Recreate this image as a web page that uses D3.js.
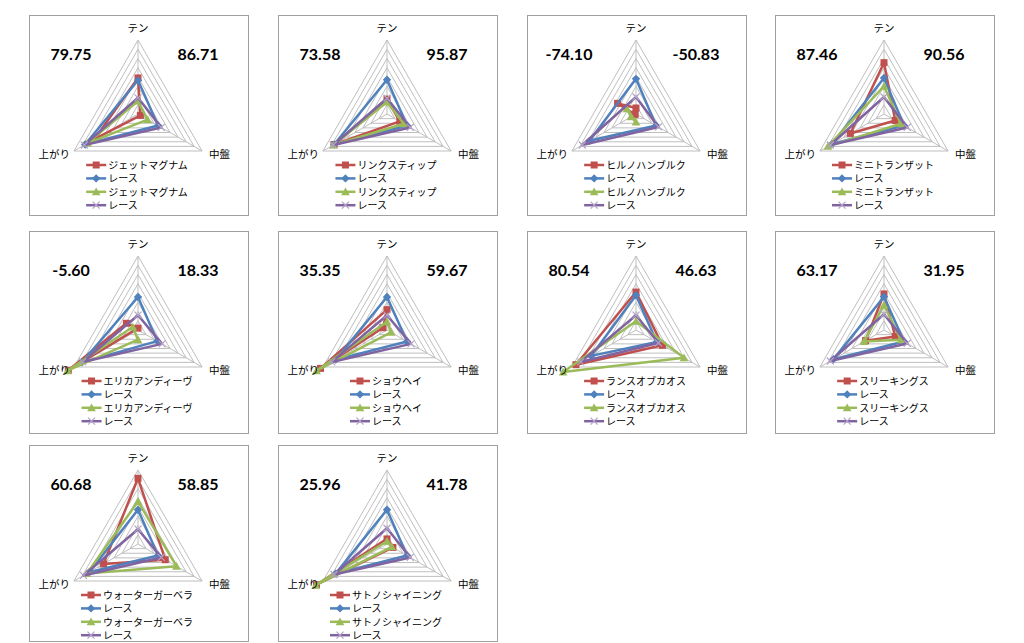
<!DOCTYPE html>
<html>
<head>
<meta charset="utf-8">
<script src="https://cdn.jsdelivr.net/npm/d3@7"></script>
<style>
  html, body { margin: 0; padding: 0; background: #ffffff; }
  svg { display: block; }
</style>
</head>
<body>
<svg id="chart" width="1024" height="643"></svg>
<script>
// ---------------- DATA ----------------
const axes = ["テン", "中盤", "上がり"];
const horses = ["ジェットマグナム", "リンクスティップ", "ヒルノハンブルク", "ミニトランザット",
  "エリカアンディーヴ", "ショウヘイ", "ランスオブカオス", "スリーキングス",
  "ウォーターガーベラ", "サトノシャイニング"];
const raceLabel = "レース";
const leftScores = ["79.75", "73.58", "-74.10", "87.46", "-5.60", "35.35", "80.54", "63.17", "60.68", "25.96"];
const rightScores = ["86.71", "95.87", "-50.83", "90.56", "18.33", "59.67", "46.63", "31.95", "58.85", "41.78"];
const gridLevels = [1, 2, 3, 4, 5, 6, 7, 8];

// values per panel: [テン, 中盤, 上がり]
const redSeries = [
  [3.9, 0.3, 5.45], [1.6, 1.6, 6.6], [0.65, -2.3, 0.1], [5.55, 1.4, 4.2], [0.2, -1.45, 8.7],
  [2.2, -0.5, 8.3], [4.1, 3.3, 7.5], [3.9, 1.4, 2.3], [7.1, 3.4, 4.3], [0.55, 0.74, 8.8]
];
const blueSeries = [
  [3.64, 2.5, 6.6], [3.7, 2.5, 6.6], [3.8, 2.5, 5.8], [3.9, 2.5, 6.5], [3.57, 2.4, 7.0],
  [3.57, 2.5, 6.4], [3.75, 2.6, 5.6], [3.6, 2.5, 6.3], [3.7, 2.5, 6.1], [3.7, 2.5, 6.4]
];
const greenSeries = [
  [1.4, 1.2, 6.3], [1.3, 2.1, 6.7], [-0.87, -1.15, 0.62], [3.0, 2.1, 7.0], [-1.05, -0.65, 8.8],
  [0.9, 0.5, 8.8], [0.95, 6.0, 9.1], [2.7, 2.1, 2.5], [4.6, 4.8, 6.4], [0.3, 0.6, 8.9]
];
const purpleSeries = [
  [1.75, 2.9, 6.7], [1.7, 2.9, 6.7], [1.84, 2.8, 6.7], [1.84, 2.9, 6.7], [1.6, 3.0, 6.9],
  [1.6, 3.0, 6.9], [1.6, 2.8, 6.9], [1.7, 2.9, 6.7], [1.6, 2.9, 6.8], [1.7, 2.9, 6.6]
];

// ---------------- LAYOUT ----------------
const colX = [29, 278, 527, 775];
const rowY = [15, 231, 445];
const rowH = [200, 202, 196];
const panelW = 219;
const cxRel = 109, cyRel = 99, R = 74;

const seriesStyle = [
  { color: "#C0504D", marker: "square" },
  { color: "#4F81BD", marker: "diamond" },
  { color: "#9BBB59", marker: "triangle" },
  { color: "#8064A2", marker: "x" }
];

const svg = d3.select("#chart");
const rScale = d3.scaleLinear().domain([0, 8]).range([0, R]);
const angle = d3.scalePoint().domain(axes).range([0, 240]); // degrees clockwise from top

function pt(axisName, v) {
  const a = angle(axisName) * Math.PI / 180;
  const r = rScale(v);
  return [r * Math.sin(a), -r * Math.cos(a)];
}

function drawMarker(g, type, x, y, color, s) {
  if (type === "square") {
    g.append("rect").attr("x", x - s / 2).attr("y", y - s / 2).attr("width", s).attr("height", s)
      .attr("fill", color);
  } else if (type === "diamond") {
    const d = s * 0.6;
    g.append("path").attr("d", `M${x},${y - d}L${x + d},${y}L${x},${y + d}L${x - d},${y}Z`).attr("fill", color);
  } else if (type === "triangle") {
    const d = s * 0.62;
    g.append("path").attr("d", `M${x},${y - d}L${x + d},${y + d * 0.8}L${x - d},${y + d * 0.8}Z`).attr("fill", color);
  } else {
    const d = s * 0.5;
    g.append("path").attr("d", `M${x - d},${y - d}L${x + d},${y + d}M${x - d},${y + d}L${x + d},${y - d}`)
      .attr("stroke", "#B3A2C7").attr("stroke-width", 1.2).attr("fill", "none");
  }
}

const lineGen = d3.line();

horses.forEach((name, i) => {
  const px = colX[i % 4], py = rowY[Math.floor(i / 4)], ph = rowH[Math.floor(i / 4)];
  const panel = svg.append("g").attr("transform", `translate(${px},${py})`);
  panel.append("rect").attr("x", 0.5).attr("y", 0.5).attr("width", panelW).attr("height", ph)
    .attr("fill", "#ffffff").attr("stroke", "#A0A0A0").attr("stroke-width", 1);

  const plot = panel.append("g").attr("transform", `translate(${cxRel},${cyRel})`);
  // grid rings
  gridLevels.forEach(l => {
    const pts = axes.map(a => pt(a, l));
    plot.append("path").attr("d", lineGen(pts) + "Z").attr("fill", "none")
      .attr("stroke", "#BFBFBF").attr("stroke-width", 1);
  });
  // spokes
  axes.forEach(a => {
    const p = pt(a, 8);
    plot.append("line").attr("x1", 0).attr("y1", 0).attr("x2", p[0]).attr("y2", p[1])
      .attr("stroke", "#BFBFBF").attr("stroke-width", 1);
  });

  // series
  const seriesData = [redSeries[i], blueSeries[i], greenSeries[i], purpleSeries[i]];
  seriesData.forEach((vals, si) => {
    const st = seriesStyle[si];
    const pts = axes.map((a, k) => pt(a, vals[k]));
    plot.append("path").attr("d", lineGen(pts) + "Z").attr("fill", "none")
      .attr("stroke", st.color).attr("stroke-width", 2.5).attr("stroke-linejoin", "round");
    pts.forEach(p => drawMarker(plot, st.marker, p[0], p[1], st.color, 7));
  });

  // axis labels
  const top = pt(axes[0], 8);
  panel.append("text").attr("x", cxRel).attr("y", cyRel + top[1] - 8)
    .attr("text-anchor", "middle").attr("font-family", "Noto Sans CJK JP").attr("font-size", 10.5)
    .text(axes[0]);
  const right = pt(axes[1], 8);
  panel.append("text").attr("x", cxRel + right[0] + 7).attr("y", cyRel + right[1] + 7)
    .attr("text-anchor", "start").attr("font-family", "Noto Sans CJK JP").attr("font-size", 10.5)
    .text(axes[1]);
  const left = pt(axes[2], 8);
  panel.append("text").attr("x", cxRel + left[0] - 4).attr("y", cyRel + left[1] + 7)
    .attr("text-anchor", "end").attr("font-family", "Noto Sans CJK JP").attr("font-size", 10.5)
    .text(axes[2]);

  // scores
  panel.append("text").attr("x", 42).attr("y", 45).attr("text-anchor", "middle")
    .attr("font-family", "Lato").attr("font-weight", "bold").attr("font-size", 16).attr("fill", "#000")
    .text(leftScores[i]);
  panel.append("text").attr("x", 169).attr("y", 45).attr("text-anchor", "middle")
    .attr("font-family", "Lato").attr("font-weight", "bold").attr("font-size", 16).attr("fill", "#000")
    .text(rightScores[i]);

  // legend
  const legendNames = [name, raceLabel, name, raceLabel];
  const leg = panel.append("g");
  const items = legendNames.map((t, k) => {
    const g = leg.append("g").attr("transform", `translate(0,${150 + k * 13.4})`);
    const txt = g.append("text").attr("x", 22).attr("y", 4).attr("font-family", "Noto Sans CJK JP")
      .attr("font-size", 10).attr("fill", "#000").text(t);
    g.append("line").attr("x1", 0).attr("x2", 20).attr("y1", 0).attr("y2", 0)
      .attr("stroke", seriesStyle[k].color).attr("stroke-width", 2.5);
    drawMarker(g, seriesStyle[k].marker, 10, 0, seriesStyle[k].color, 7);
    return txt.node().getComputedTextLength();
  });
  const legW = 22 + d3.max(items);
  leg.attr("transform", `translate(${108 - legW / 2},0)`);
});
</script>
</body>
</html>
